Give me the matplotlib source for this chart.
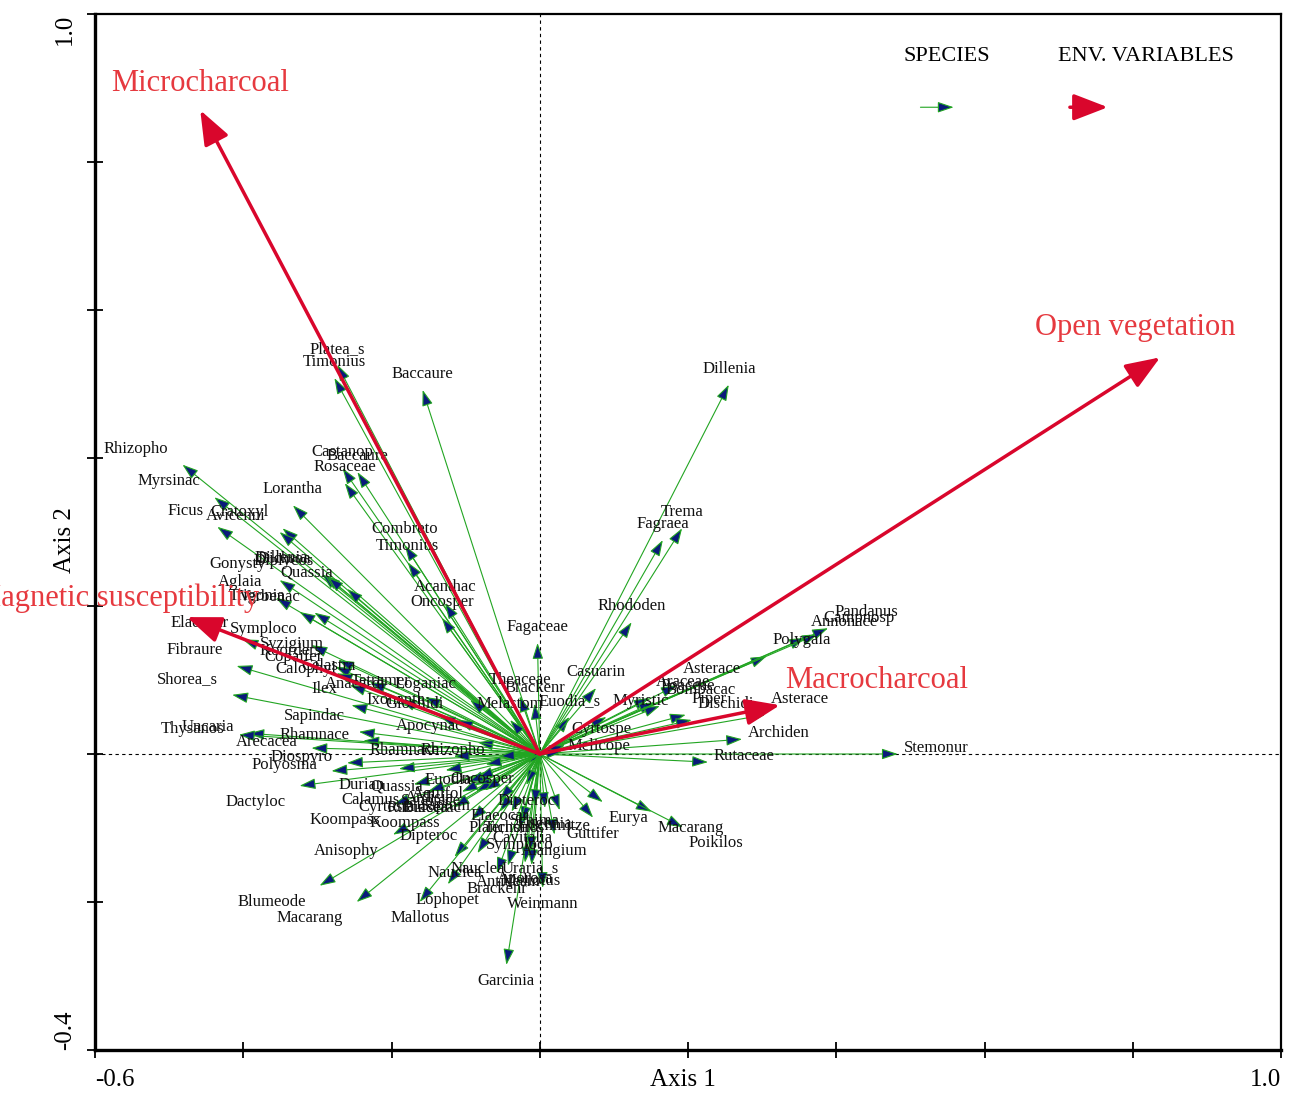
import numpy as np
import matplotlib
matplotlib.use('Agg')
import matplotlib.pyplot as plt

plt.rcParams['font.family'] = ['Liberation Serif', 'DejaVu Serif']

# species scores (axis 1, axis 2)
sp_names = [
    "Platea_s", "Timonius", "Baccaure", "Rhizopho", "Myrsinac", "Ficus",
    "Cratoxyl", "Avicenni", "Lorantha", "Castanop", "Baccaure", "Rosaceae",
    "Combreto", "Timonius", "Acanthac", "Oncosper", "Gonysty", "Dillenia",
    "Dichroa", "Diplycos", "Quassia", "Aglaia", "Trigonia", "Verbenac",
    "Elaeocar", "Symploco", "Syzigium", "Koorders", "Copaifer", "Calophyl",
    "Celastra", "Ilex", "Anacardi", "Tetramer", "Loganiac", "Ixonanth",
    "Glochidi", "Apocynac", "Melastom", "Theaceae", "Brackenr", "Fagaceae",
    "Euodia_s", "Casuarin", "Rhododen", "Fagraea", "Trema", "Dillenia",
    "Myristic", "Araceae", "Poaceae", "Bombacac", "Piper", "Dischidi",
    "Asterace", "Polygala", "Annonace", "Campnosp", "Pandanus", "Asterace",
    "Archiden", "Rutaceae", "Stemonur", "Cyrtospe", "Melicope", "Eurya",
    "Macarang", "Poikilos", "Guttifer", "Alangium", "Symploco", "Cavitalia",
    "Nauclea", "Nauclea", "Lophopet", "Mallotus", "Brackenr", "Antidesm",
    "Aporosa", "Mallotus", "Uraria_s", "Weinmann", "Garcinia", "Blumeode",
    "Macarang", "Anisophy", "Dipteroc", "Koompass", "Koompass", "Dactyloc",
    "Calamus", "Cyrtosta", "Burserac", "Sapotace", "Durian", "Quassia_",
    "Euodia", "Fibraure", "Shorea_s", "Sapindac", "Rhamnace", "Uncaria",
    "Thysanos", "Arecacea", "Diospyro", "Polyosma", "Rhamnace", "Rhizopho",
    "Oncosper", "Ardisia", "Aquifol", "Rubiacea", "Sapium", "Elaeocar",
    "Dipteroc", "Planchon", "Ternstro", "Schima", "Eugenia", "Schmitze",
]
sp_x = [
    -0.273, -0.277, -0.158, -0.482, -0.439, -0.435,
    -0.347, -0.351, -0.333, -0.266, -0.246, -0.263,
    -0.182, -0.178, -0.128, -0.132, -0.351, -0.294,
    -0.290, -0.286, -0.260, -0.356, -0.324, -0.304,
    -0.401, -0.308, -0.272, -0.276, -0.274, -0.256,
    -0.229, -0.254, -0.189, -0.155, -0.094, -0.135,
    -0.111, -0.084, -0.040, -0.027, -0.007, -0.003,
    0.040, 0.076, 0.124, 0.166, 0.192, 0.255,
    0.090, 0.148, 0.155, 0.162, 0.197, 0.205,
    0.185, 0.306, 0.358, 0.375, 0.389, 0.304,
    0.273, 0.227, 0.483, 0.034, 0.030, 0.085,
    0.151, 0.193, 0.072, 0.020, -0.027, -0.024,
    -0.084, -0.115, -0.124, -0.162, -0.058, -0.043,
    -0.020, -0.011, -0.013, 0.004, -0.045, -0.297,
    -0.247, -0.198, -0.092, -0.197, -0.116, -0.324,
    -0.170, -0.150, -0.086, -0.088, -0.190, -0.127,
    -0.073, -0.409, -0.415, -0.244, -0.238, -0.393,
    -0.406, -0.308, -0.260, -0.281, -0.116, -0.055,
    -0.016, -0.097, -0.084, -0.105, -0.074, -0.054,
    -0.018, -0.054, -0.038, -0.007, 0.007, 0.027,
]
sp_y = [
    0.526, 0.508, 0.492, 0.391, 0.347, 0.307,
    0.305, 0.300, 0.336, 0.386, 0.381, 0.366,
    0.282, 0.259, 0.204, 0.184, 0.235, 0.243,
    0.242, 0.239, 0.223, 0.211, 0.192, 0.191,
    0.155, 0.147, 0.127, 0.118, 0.109, 0.093,
    0.097, 0.066, 0.073, 0.077, 0.073, 0.051,
    0.046, 0.016, 0.046, 0.078, 0.068, 0.150,
    0.050, 0.089, 0.178, 0.289, 0.305, 0.499,
    0.050, 0.076, 0.070, 0.065, 0.053, 0.046,
    0.093, 0.132, 0.157, 0.162, 0.170, 0.053,
    0.020, -0.011, 0.000, 0.012, 0.003, -0.065,
    -0.078, -0.099, -0.086, -0.109, -0.101, -0.092,
    -0.134, -0.139, -0.176, -0.200, -0.161, -0.151,
    -0.147, -0.150, -0.132, -0.181, -0.285, -0.178,
    -0.200, -0.109, -0.089, -0.068, -0.072, -0.043,
    -0.041, -0.050, -0.051, -0.042, -0.020, -0.022,
    -0.014, 0.119, 0.080, 0.030, 0.018, 0.028,
    0.026, 0.008, -0.012, -0.023, -0.003, -0.003,
    -0.012, -0.038, -0.032, -0.051, -0.049, -0.062,
    -0.042, -0.078, -0.078, -0.069, -0.073, -0.076,
]

# environmental variables
env_names = ["Microcharcoal", "Open vegetation", "Macrocharcoal",
             "Magnetic susceptibility"]
env_x = [-0.458, 0.837, 0.324, -0.476]
env_y = [0.870, 0.536, 0.066, 0.185]

# label offsets for env variables (pixels)
env_offsets = [(0, 27), (-25, 30), (97, 25), (-70, 19)]

SP_LINE = '#22a522'
SP_HEAD = '#0a1a7a'
ENV_COL = '#d9062c'
ENV_TXT = '#e6393f'

fig = plt.figure(figsize=(12.95, 11.02), dpi=100)
ax = fig.add_axes([95 / 1295, 1 - 1050 / 1102, 1186 / 1295, 1036 / 1102])
ax.set_xlim(-0.6, 1.0)
ax.set_ylim(-0.4, 1.0)

ax.axhline(0, color='black', lw=0.8, dashes=(3, 3), zorder=0)
ax.axvline(0, color='black', lw=0.8, dashes=(3, 3), zorder=0)

sp_style = '-|>,head_length=0.65,head_width=0.22'
for name, x, y in zip(sp_names, sp_x, sp_y):
    ax.annotate('', xy=(x, y), xytext=(0, 0),
                arrowprops=dict(arrowstyle=sp_style, mutation_scale=15,
                                facecolor=SP_HEAD, edgecolor=SP_LINE, lw=0.8,
                                shrinkA=0, shrinkB=0), zorder=2)
    r = np.hypot(x, y)
    ux, uy = x / r, y / r
    if abs(uy) > 0.7:
        ha, dx = 'center', 0
    elif ux > 0:
        ha, dx = 'left', 6
    else:
        ha, dx = 'right', -14
    if abs(uy) > 0.1:
        dy = 16 * np.sign(uy)
    else:
        dy = 6
    ax.annotate(name, xy=(x, y), xytext=(dx, dy), textcoords='offset pixels',
                ha=ha, va='center', fontsize=12, color='#111111', zorder=3)

env_style = '-|>,head_length=0.7,head_width=0.27'
for name, x, y, off in zip(env_names, env_x, env_y, env_offsets):
    ax.annotate('', xy=(x, y), xytext=(0, 0),
                arrowprops=dict(arrowstyle=env_style, mutation_scale=30,
                                color=ENV_COL, lw=2.5,
                                shrinkA=0, shrinkB=0), zorder=4)
    ax.annotate(name, xy=(x, y), xytext=off, textcoords='offset pixels',
                ha='center', va='center', fontsize=22, color=ENV_TXT,
                annotation_clip=False, zorder=5)

# legend
ax.text(0.718, 0.959, 'SPECIES', transform=ax.transAxes, ha='center',
        va='center', fontsize=16)
ax.text(0.886, 0.959, 'ENV. VARIABLES', transform=ax.transAxes, ha='center',
        va='center', fontsize=16)
ax.annotate('', xy=(0.724, 0.910), xytext=(0.696, 0.910),
            xycoords='axes fraction', textcoords='axes fraction',
            arrowprops=dict(arrowstyle=sp_style, mutation_scale=15,
                            facecolor=SP_HEAD, edgecolor=SP_LINE, lw=0.8,
                            shrinkA=0, shrinkB=0))
ax.annotate('', xy=(0.854, 0.910), xytext=(0.822, 0.910),
            xycoords='axes fraction', textcoords='axes fraction',
            arrowprops=dict(arrowstyle=env_style, mutation_scale=30,
                            color=ENV_COL, lw=2.5, shrinkA=0, shrinkB=0))

# axes and ticks
ax.set_xticks(np.arange(-0.6, 1.01, 0.2))
ax.set_yticks(np.arange(-0.4, 1.01, 0.2))
ax.set_xticklabels([])
ax.set_yticklabels([])
ax.tick_params(axis='x', direction='inout', length=12, width=1.3)
ax.tick_params(axis='y', direction='inout', length=12, width=1.3)
for side in ['left', 'bottom']:
    ax.spines[side].set_linewidth(2.4)
for side in ['top', 'right']:
    ax.spines[side].set_linewidth(1.6)

ax.text(0.0, -0.029, '-0.6', transform=ax.transAxes, ha='left', va='center',
        fontsize=18)
ax.text(1.0, -0.029, '1.0', transform=ax.transAxes, ha='right', va='center',
        fontsize=18)
ax.text(0.496, -0.029, 'Axis 1', transform=ax.transAxes, ha='center',
        va='center', fontsize=18)
ax.text(-0.025, 1.0, '1.0', transform=ax.transAxes, ha='center', va='top',
        rotation=90, fontsize=18)
ax.text(-0.025, 0.0, '-0.4', transform=ax.transAxes, ha='center',
        va='bottom', rotation=90, fontsize=18)
ax.text(-0.025, 0.492, 'Axis 2', transform=ax.transAxes, ha='center',
        va='center', rotation=90, fontsize=18)

fig.savefig('out.png', dpi=100)
